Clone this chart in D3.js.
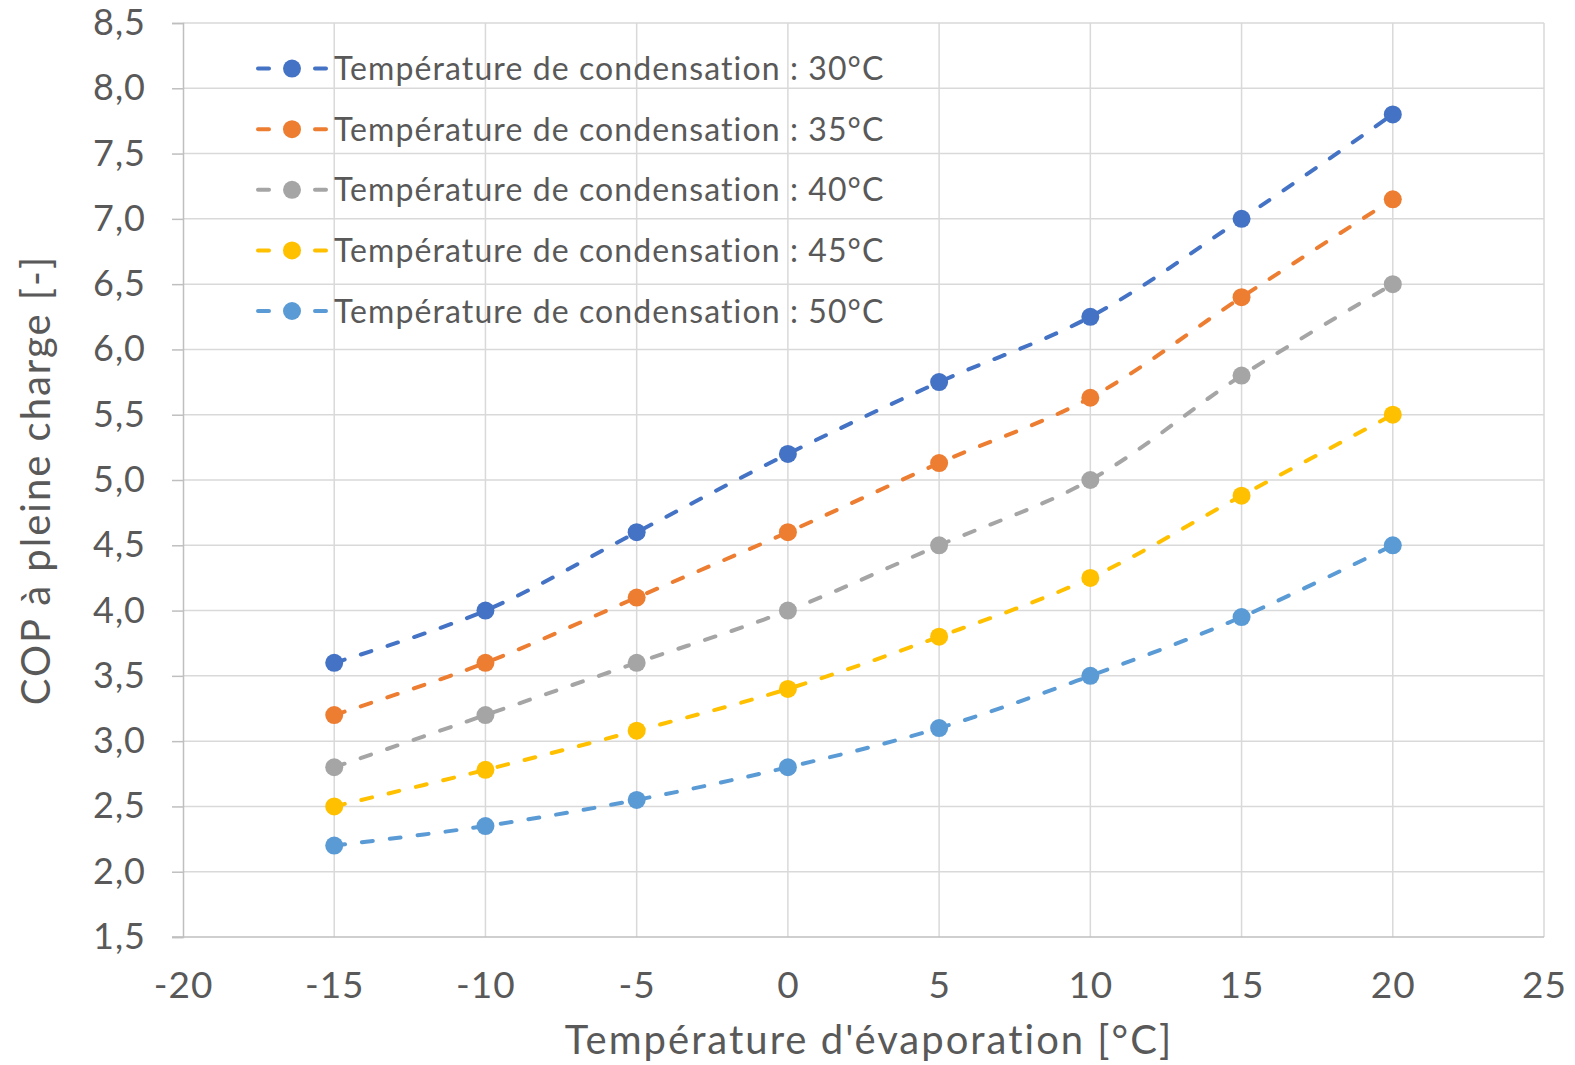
<!DOCTYPE html>
<html>
<head>
<meta charset="utf-8">
<script src="https://cdn.jsdelivr.net/npm/d3@7"></script>
<style>
  html, body { margin: 0; padding: 0; background: #fff; overflow: hidden; }
  svg { display: block; }
  text { font-family: 'Lato', 'Open Sans', sans-serif; fill: #595959; }
</style>
</head>
<body>
<div id="chart"></div>
<script>
// Evaporation temperatures (x)
const evapTemps = [-15, -10, -5, 0, 5, 10, 15, 20]
const seriesNames = [
  'Température de condensation : 30°C',
  'Température de condensation : 35°C',
  'Température de condensation : 40°C',
  'Température de condensation : 45°C',
  'Température de condensation : 50°C'
]
const cop30 = [3.6, 4.0, 4.6, 5.2, 5.75, 6.25, 7.0, 7.8]
const cop35 = [3.2, 3.6, 4.1, 4.6, 5.13, 5.63, 6.4, 7.15]
const cop40 = [2.8, 3.2, 3.6, 4.0, 4.5, 5.0, 5.8, 6.5]
const cop45 = [2.5, 2.78, 3.08, 3.4, 3.8, 4.25, 4.88, 5.5]
const cop50 = [2.2, 2.35, 2.55, 2.8, 3.1, 3.5, 3.95, 4.5]
const xTicks = [-20, -15, -10, -5, 0, 5, 10, 15, 20, 25]
const yTicks = [1.5, 2, 2.5, 3, 3.5, 4, 4.5, 5, 5.5, 6, 6.5, 7, 7.5, 8, 8.5]

const colors = ['#4472c4', '#ed7d31', '#a5a5a5', '#ffc000', '#5b9bd5']
const allSeries = [cop30, cop35, cop40, cop45, cop50]

const width = 1575
const height = 1065
const margin = { left: 183, right: 31, top: 23, bottom: 128 }

const svg = d3.select('#chart')
  .append('svg')
  .attr('width', width)
  .attr('height', height)

const x = d3.scaleLinear()
  .domain([-20, 25])
  .range([margin.left, width - margin.right])

const y = d3.scaleLinear()
  .domain([1.5, 8.5])
  .range([height - margin.bottom, margin.top])

// Grid
svg.append('g')
  .selectAll('line')
  .data(yTicks.slice(1))
  .enter()
  .append('line')
  .attr('x1', margin.left)
  .attr('x2', width - margin.right)
  .attr('y1', d => y(d))
  .attr('y2', d => y(d))
  .attr('stroke', '#d9d9d9')
  .attr('stroke-width', 1.5)

svg.append('g')
  .selectAll('line')
  .data(xTicks.slice(1))
  .enter()
  .append('line')
  .attr('x1', d => x(d))
  .attr('x2', d => x(d))
  .attr('y1', y(1.5))
  .attr('y2', y(8.5))
  .attr('stroke', '#d9d9d9')
  .attr('stroke-width', 1.5)

// Axes
const yAxis = svg.append('g')
  .attr('transform', `translate(${margin.left},0)`)
  .call(d3.axisLeft(y)
    .tickValues(yTicks)
    .tickSize(11)
    .tickPadding(26)
    .tickFormat(d => d3.format('.1f')(d).replace('.', ',')))
yAxis.select('.domain').attr('stroke', '#bfbfbf').attr('stroke-width', 1.5)
yAxis.selectAll('.tick line').attr('stroke', '#bfbfbf').attr('stroke-width', 1.5)
yAxis.selectAll('text')
  .attr('font-size', 36)
  .attr('letter-spacing', 1)
  .attr('fill', '#595959')
  .style('font-family', "'Lato', sans-serif")

const xAxis = svg.append('g')
  .attr('transform', `translate(0,${y(1.5)})`)
  .call(d3.axisBottom(x)
    .tickValues(xTicks)
    .tickSize(0)
    .tickFormat(d => String(d)))
xAxis.select('.domain').remove()
xAxis.selectAll('text')
  .attr('font-size', 37)
  .attr('letter-spacing', 1)
  .attr('fill', '#595959')
  .attr('y', 61)
  .attr('dy', null)
  .style('font-family', "'Lato', sans-serif")
svg.append('line')
  .attr('x1', margin.left - 11)
  .attr('x2', width - margin.right)
  .attr('y1', y(1.5))
  .attr('y2', y(1.5))
  .attr('stroke', '#bfbfbf')
  .attr('stroke-width', 1.5)

// Axis titles
svg.append('text')
  .attr('x', 869)
  .attr('y', 1054)
  .attr('text-anchor', 'middle')
  .attr('font-size', 40)
  .attr('letter-spacing', 2)
  .text("Température d'évaporation [°C]")

svg.append('text')
  .attr('transform', `translate(50, ${(y(1.5) + y(8.5)) / 2}) rotate(-90)`)
  .attr('text-anchor', 'middle')
  .attr('font-size', 40)
  .attr('letter-spacing', 2)
  .text('COP à pleine charge [-]')

// Series
const line = d3.line()
  .x((d, i) => x(evapTemps[i]))
  .y(d => y(d))
  .curve(d3.curveCatmullRom.alpha(0.5))

allSeries.forEach((vals, k) => {
  svg.append('path')
    .datum(vals)
    .attr('d', line)
    .attr('fill', 'none')
    .attr('stroke', colors[k])
    .attr('stroke-width', 4)
    .attr('stroke-linecap', 'round')
    .attr('stroke-dasharray', '11,17')

  svg.append('g')
    .selectAll('circle')
    .data(vals)
    .enter()
    .append('circle')
    .attr('cx', (d, i) => x(evapTemps[i]))
    .attr('cy', d => y(d))
    .attr('r', 9)
    .attr('fill', colors[k])
})

// Legend
const legend = svg.append('g')
  .selectAll('g')
  .data(seriesNames)
  .enter()
  .append('g')
  .attr('transform', (d, i) => `translate(252, ${68.6 + i * 60.6})`)

legend.append('line')
  .attr('x1', 6).attr('x2', 74)
  .attr('stroke', (d, i) => colors[i])
  .attr('stroke-width', 4)
  .attr('stroke-linecap', 'round')
  .attr('stroke-dasharray', '11,46,11')
legend.append('circle')
  .attr('cx', 40)
  .attr('r', 9)
  .attr('fill', (d, i) => colors[i])
legend.append('text')
  .attr('x', 82)
  .attr('dy', '0.36em')
  .attr('font-size', 32)
  .attr('letter-spacing', 1.1)
  .text(d => d)
</script>
</body>
</html>
